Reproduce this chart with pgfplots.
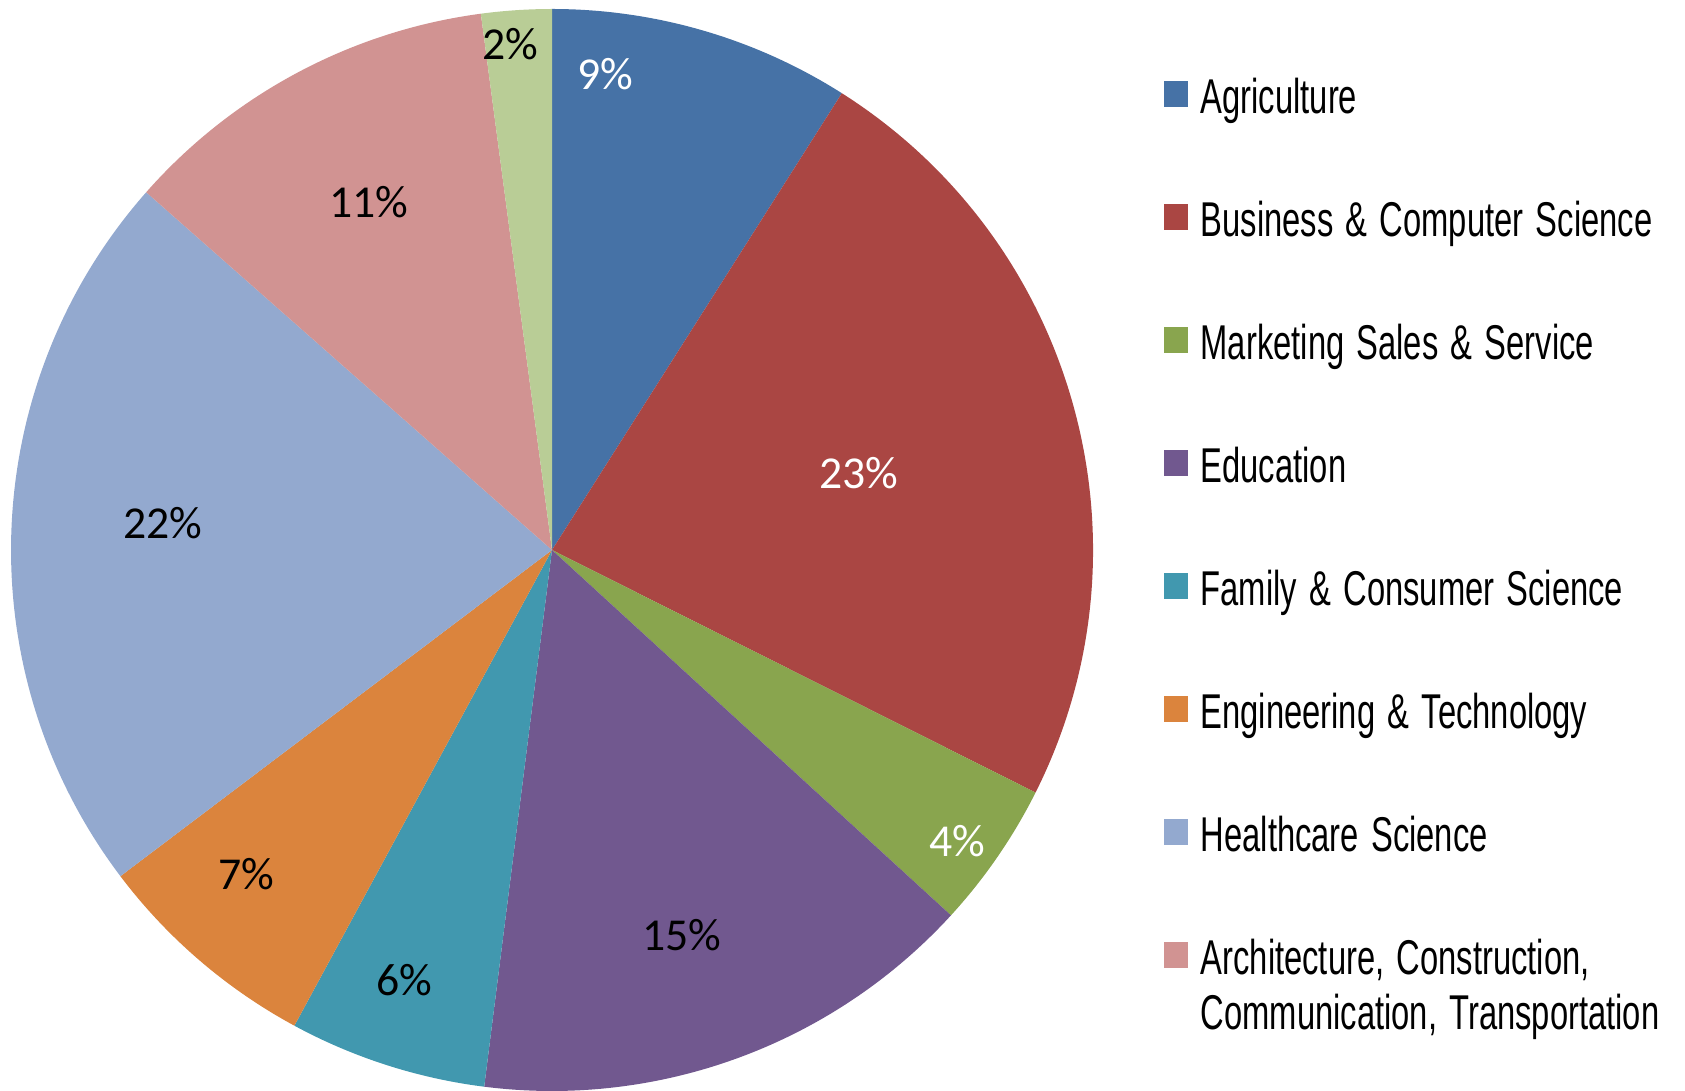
\documentclass[border=0pt]{standalone}
\usepackage{pgfplots}
\usepackage{pgfplotstable}
\usepackage{fontspec}
\pgfplotsset{compat=1.18}
\setmainfont{Carlito}
\newfontfamily\labfont{Carlito}
\newfontfamily\legfont[FakeStretch=0.67, WordSpace=1.35]{Liberation Sans}

\definecolor{c1}{RGB}{70,114,166}
\definecolor{c2}{RGB}{170,70,67}
\definecolor{c3}{RGB}{137,165,78}
\definecolor{c4}{RGB}{113,88,143}
\definecolor{c5}{RGB}{65,152,175}
\definecolor{c6}{RGB}{219,132,61}
\definecolor{c7}{RGB}{147,169,207}
\definecolor{c8}{RGB}{209,147,146}
\definecolor{c9}{RGB}{185,205,150}

% share (%), rounded label, colour, label position (px from top left), label colour
\pgfplotstableread{
value pct col lx ly txt
9.0  9  c1 605 74  white
23.4 23 c2 859 473 white
4.4  4  c3 957 841 white
15.2 15 c4 682 935 black
5.9  6  c5 404 980 black
6.8  7  c6 246 874 black
21.8 22 c7 163 523 black
11.4 11 c8 369 202 black
2.1  2  c9 510 44  black
}\piedata

\begin{document}
\begin{tikzpicture}[labs/.style={font=\labfont\fontsize{13}{15}\selectfont}]
\begin{axis}[
    hide axis,
    scale only axis,
    width=16.85cm, height=10.91cm,
    xmin=0, xmax=1685, ymin=0, ymax=1091,
    clip=false
]
\pgfmathsetmacro\a{90}
\pgfplotsforeachungrouped \i in {0,...,8}{
    \pgfplotstablegetelem{\i}{value}\of\piedata \let\v\pgfplotsretval
    \pgfplotstablegetelem{\i}{col}\of\piedata \let\c\pgfplotsretval
    \pgfmathsetmacro\b{\a-3.6*\v}
    \edef\temp{\noexpand\fill[\c] (axis cs:552,541) -- ++(\a:5.41cm)
        arc[start angle=\a, end angle=\b, radius=5.41cm] -- cycle;}
    \temp
    \let\a\b
}
\pgfplotsforeachungrouped \i in {0,...,8}{
    \pgfplotstablegetelem{\i}{pct}\of\piedata \let\p\pgfplotsretval
    \pgfplotstablegetelem{\i}{lx}\of\piedata \let\lx\pgfplotsretval
    \pgfplotstablegetelem{\i}{ly}\of\piedata \let\ly\pgfplotsretval
    \pgfplotstablegetelem{\i}{txt}\of\piedata \let\t\pgfplotsretval
    \pgfmathsetmacro\yy{1091-\ly}
    \edef\temp{\noexpand\node[labs, text=\t, anchor=center] at (axis cs:\lx,\yy) {\p\noexpand\%};}
    \temp
}
\end{axis}

% legend (1 cm = 100 px)
\foreach \c/\n [count=\k from 0] in {c1/Agriculture, c2/Business \& Computer Science,
    c3/Marketing Sales \& Service, c4/Education, c5/Family \& Consumer Science,
    c6/Engineering \& Technology, c7/Healthcare Science, c8/{Architecture, Construction,}}{
    \pgfmathsetmacro\yb{(1091-114-123*\k)/100}
    \fill[\c] (11.64,\yb+0.07) rectangle ++(0.24,0.26);
    \node[anchor=base west, inner sep=0pt, font=\legfont\fontsize{13.9}{16}\selectfont] at (12.00,\yb) {\n};
}
\node[anchor=base west, inner sep=0pt, font=\legfont\fontsize{13.9}{16}\selectfont] at (12.00,{(1091-1030)/100}) {Communication, Transportation};

\pgfresetboundingbox
\useasboundingbox (0,0) rectangle (16.85,10.91);
\end{tikzpicture}
\end{document}
